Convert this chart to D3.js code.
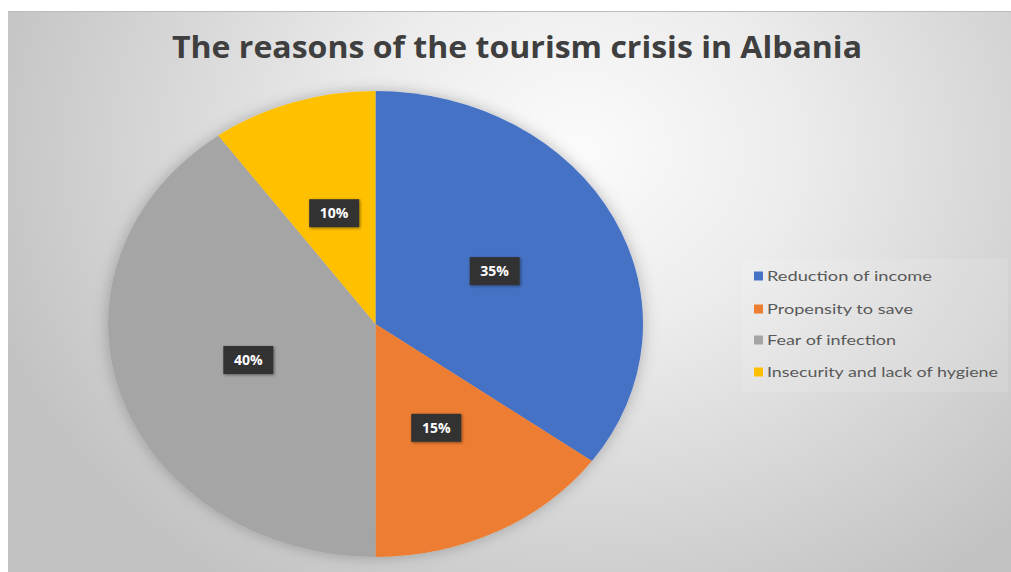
<!DOCTYPE html>
<html><head><meta charset="utf-8">
<script src="https://cdn.jsdelivr.net/npm/d3@7"></script>
<style>html,body{margin:0;padding:0;background:#fff;}svg{display:block;}</style>
</head><body>
<svg id="chart" width="1011" height="572"></svg>
<script>
const categories = ["Reduction of income", "Propensity to save", "Fear of infection", "Insecurity and lack of hygiene"];
const values = [35, 15, 40, 10];
const colors = ["#4472C4", "#ED7D31", "#A5A5A5", "#FFC000"];
const legendWidths = [165, 146, 129, 231];
const titleText = "The reasons of the tourism crisis in Albania";

const svg = d3.select("#chart");
const W = 1011, H = 572;
const defs = svg.append("defs");

const bg = defs.append("radialGradient").attr("id", "bg")
  .attr("gradientUnits", "userSpaceOnUse")
  .attr("cx", 580).attr("cy", 150).attr("r", 620)
  .attr("gradientTransform", "translate(580,150) scale(1,0.85) translate(-580,-150)");
bg.append("stop").attr("offset", "0").attr("stop-color", "#fbfbfb");
bg.append("stop").attr("offset", "0.35").attr("stop-color", "#ececec");
bg.append("stop").attr("offset", "1").attr("stop-color", "#c2c2c2");

const sh = defs.append("filter").attr("id", "glow").attr("x", "-20%").attr("y", "-20%").attr("width", "140%").attr("height", "140%");
sh.append("feGaussianBlur").attr("in", "SourceAlpha").attr("stdDeviation", 7).attr("result", "b");
sh.append("feFlood").attr("flood-color", "#000").attr("flood-opacity", 0.25);
sh.append("feComposite").attr("in2", "b").attr("operator", "in").attr("result", "s");
const m = sh.append("feMerge");
m.append("feMergeNode").attr("in", "s");
m.append("feMergeNode").attr("in", "SourceGraphic");

const lsh = defs.append("filter").attr("id", "lsh").attr("x", "-30%").attr("y", "-30%").attr("width", "160%").attr("height", "160%");
lsh.append("feDropShadow").attr("dx", 1).attr("dy", 1).attr("stdDeviation", 1.5).attr("flood-color", "#000").attr("flood-opacity", 0.45);

svg.append("rect").attr("x", 8).attr("y", 11).attr("width", W - 8).attr("height", H - 11)
  .attr("fill", "url(#bg)");
svg.append("line").attr("x1", 8).attr("x2", W).attr("y1", 11.5).attr("y2", 11.5)
  .attr("stroke", "#bdbdbd").attr("stroke-width", 1);

svg.append("text").attr("x", 172).attr("y", 58)
  .attr("textLength", 690).attr("lengthAdjust", "spacingAndGlyphs")
  .attr("font-family", "'Open Sans', sans-serif").attr("font-weight", "bold")
  .attr("font-size", 31).attr("fill", "#3f3f3f").text(titleText);

const cx = 375.5, cy = 324, rx = 267.5, ry = 233;
const sx = rx / ry;
const pie = d3.pie().sort(null).value(d => d)(values);
const arc = d3.arc().innerRadius(0).outerRadius(ry);

const pg = svg.append("g").attr("transform", `translate(${cx},${cy}) scale(${sx},1)`).attr("filter", "url(#glow)");
pg.selectAll("path").data(pie).join("path")
  .attr("d", arc).attr("fill", (d, i) => colors[i]);

const labArc = d3.arc().innerRadius(0).outerRadius(ry);
const lg = svg.append("g");
pie.forEach((d, i) => {
  const [x, y] = labArc.centroid(d);
  const px = cx + x * sx, py = cy + y;
  const g = lg.append("g").attr("transform", `translate(${px},${py})`);
  g.append("rect").attr("x", -25).attr("y", -14).attr("width", 50).attr("height", 28)
    .attr("fill", "#333333").attr("filter", "url(#lsh)");
  g.append("text").attr("text-anchor", "middle").attr("dy", "0.36em")
    .attr("font-family", "'Open Sans', sans-serif").attr("font-weight", "bold")
    .attr("font-size", 14).attr("fill", "#ffffff").text(d3.format(".0%")(d.data / 100));
});

svg.append("rect").attr("x", 742).attr("y", 259).attr("width", 266).attr("height", 133)
  .attr("fill", "#ffffff").attr("opacity", 0.12);
const legY = [276, 309, 340, 372];
const leg = svg.append("g");
categories.forEach((c, i) => {
  leg.append("rect").attr("x", 754).attr("y", legY[i] - 4.5).attr("width", 9).attr("height", 9)
    .attr("fill", colors[i]);
  leg.append("text").attr("x", 767).attr("y", legY[i]).attr("dy", "0.35em")
    .attr("textLength", legendWidths[i]).attr("lengthAdjust", "spacingAndGlyphs")
    .attr("font-family", "Lato, sans-serif").attr("font-size", 14).attr("fill", "#595959").text(c);
});
</script>
</body></html>
